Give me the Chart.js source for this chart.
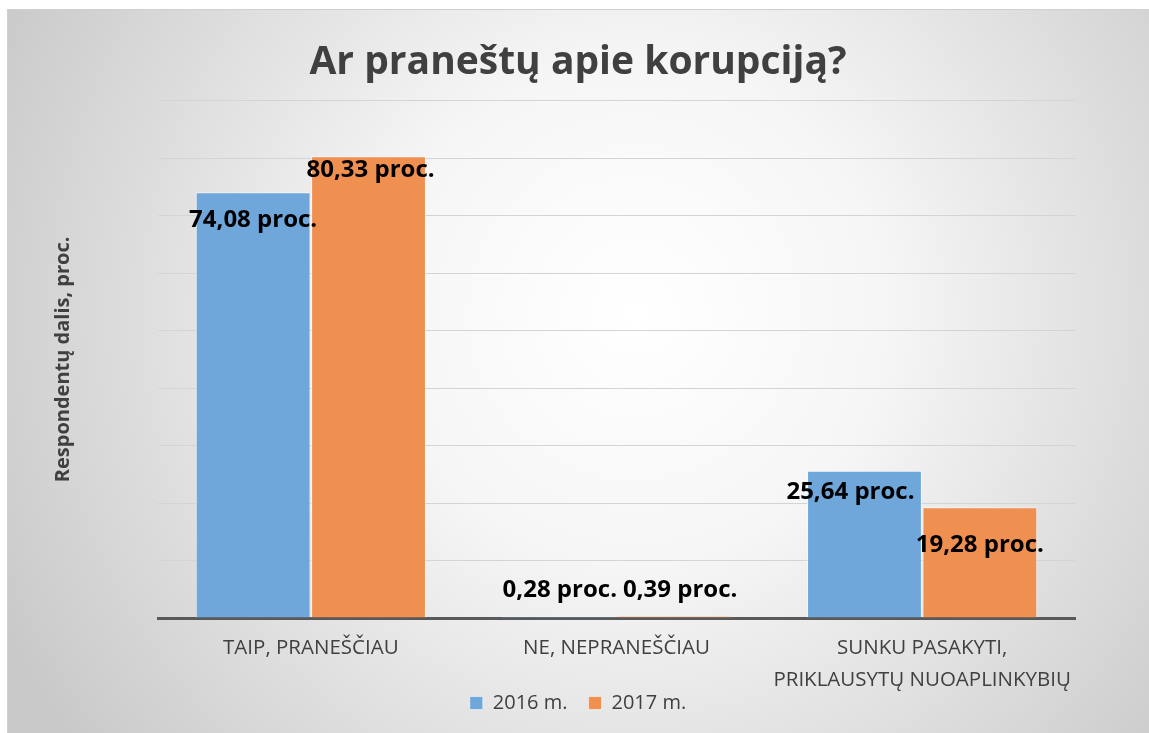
<!DOCTYPE html>
<html>
<head>
<meta charset="utf-8">
<script src="https://cdn.jsdelivr.net/npm/chart.js@4"></script>
<style>
  html, body { margin: 0; padding: 0; background: #ffffff; }
  #wrap { position: absolute; left: 7px; top: 9px; width: 1142px; height: 724px; }
</style>
</head>
<body>
<div id="wrap"><canvas id="chart"></canvas></div>
<script>
// Duomenys
const categories = [
  'TAIP, PRANEŠČIAU',
  'NE, NEPRANEŠČIAU',
  ['SUNKU PASAKYTI,', 'PRIKLAUSYTŲ NUOAPLINKYBIŲ']
];
const values2016 = [74.08, 0.28, 25.64];
const values2017 = [80.33, 0.39, 19.28];
const yTicks = [0, 10, 20, 30, 40, 50, 60, 70, 80, 90];

// Stilius
const FONT = "'Open Sans', 'Noto Sans', sans-serif";
const TEXT = '#404040';

// Etikečių poslinkiai nuo stulpelio viršaus (px), kaip originale
const labelShift = [
  [[0, 28], [2, 14]],
  [[1, -26], [6, -26]],
  [[-14, 22], [0, 38]]
];

// Fonas – radialinis gradientas
const backgroundPlugin = {
  id: 'bg',
  beforeDraw(chart) {
    const { ctx, width, height } = chart;
    const g = ctx.createRadialGradient(width * 0.55, height * 0.42, 0, width * 0.55, height * 0.42, width * 0.62);
    g.addColorStop(0, '#ffffff');
    g.addColorStop(0.35, '#f6f6f6');
    g.addColorStop(1, '#c9c9c9');
    ctx.save();
    ctx.fillStyle = g;
    ctx.fillRect(0, 0, width, height);
    ctx.strokeStyle = '#d0d0d0';
    ctx.lineWidth = 1;
    ctx.strokeRect(0.5, 0.5, width, height);
    ctx.restore();
  }
};

// Legenda šiek tiek užlipa ant ašies srities (kaip Excel'yje)
const legendShiftPlugin = {
  id: 'legendShift',
  afterLayout(chart) {
    const lg = chart.legend;
    if (!lg) return;
    lg.top -= 19;
    lg.bottom -= 19;
  }
};

// Duomenų etiketės
const labelsPlugin = {
  id: 'valueLabels',
  afterDatasetsDraw(chart) {
    const { ctx } = chart;
    ctx.save();
    ctx.font = 'bold 24px ' + FONT;
    ctx.fillStyle = '#000000';
    ctx.textAlign = 'center';
    ctx.textBaseline = 'middle';
    chart.data.datasets.forEach((ds, di) => {
      chart.getDatasetMeta(di).data.forEach((bar, i) => {
        const [dx, dy] = labelShift[i][di];
        const txt = ds.data[i].toFixed(2).replace('.', ',') + ' proc.';
        ctx.fillText(txt, bar.x + dx, bar.y + dy);
      });
    });
    ctx.restore();
  }
};

new Chart(document.getElementById('chart'), {
  type: 'bar',
  data: {
    labels: categories,
    datasets: [
      {
        label: '2016 m.',
        data: values2016,
        backgroundColor: '#6fa7db',
        borderColor: 'rgba(255,255,255,0.55)',
        borderWidth: 1
      },
      {
        label: '2017 m.',
        data: values2017,
        backgroundColor: '#ef8f50',
        borderColor: 'rgba(255,255,255,0.55)',
        borderWidth: 1
      }
    ]
  },
  options: {
    responsive: true,
    maintainAspectRatio: false,
    animation: false,
    layout: { padding: { left: 0, right: 0, top: 0, bottom: 2 } },
    datasets: {
      bar: { categoryPercentage: 0.755, barPercentage: 0.995 }
    },
    plugins: {
      title: {
        display: true,
        text: 'Ar praneštų apie korupciją?',
        color: TEXT,
        font: { family: FONT, size: 39, weight: 'bold' },
        padding: { top: 30, bottom: 15 }
      },
      legend: {
        position: 'bottom',
        maxHeight: 40,
        labels: {
          color: TEXT,
          font: { family: FONT, size: 20 },
          boxWidth: 13,
          boxHeight: 13,
          padding: 21
        }
      },
      tooltip: { enabled: false }
    },
    scales: {
      x: {
        grid: { display: false },
        border: { display: true, color: '#595959', width: 3 },
        afterFit: (s) => { s.height = 73; },
        ticks: {
          color: TEXT,
          font: { family: FONT, size: 20.5, lineHeight: 1.52 },
          padding: 7,
          maxRotation: 0,
          autoSkip: false
        }
      },
      y: {
        min: 0,
        max: 90,
        afterBuildTicks: (s) => { s.ticks = yTicks.map(v => ({ value: v })); },
        afterFit: (s) => { s.width = 151; },
        border: { display: false },
        grid: {
          color: (c) => c.tick.value === 0 ? 'rgba(0,0,0,0)' : '#d4d4d4',
          lineWidth: 1,
          drawTicks: false
        },
        ticks: { display: false },
        title: {
          display: true,
          text: 'Respondentų dalis, proc.',
          color: TEXT,
          font: { family: FONT, size: 20, weight: 'bold' },
          padding: { top: 44, bottom: 0 }
        }
      },
      // tuščia dešinė ašis – paraštė dešinėje
      yRight: {
        position: 'right',
        min: 0,
        max: 90,
        afterFit: (s) => { s.width = 74; },
        border: { display: false },
        grid: { display: false, drawTicks: false },
        ticks: { display: false }
      }
    }
  },
  plugins: [backgroundPlugin, legendShiftPlugin, labelsPlugin]
});
</script>
</body>
</html>
